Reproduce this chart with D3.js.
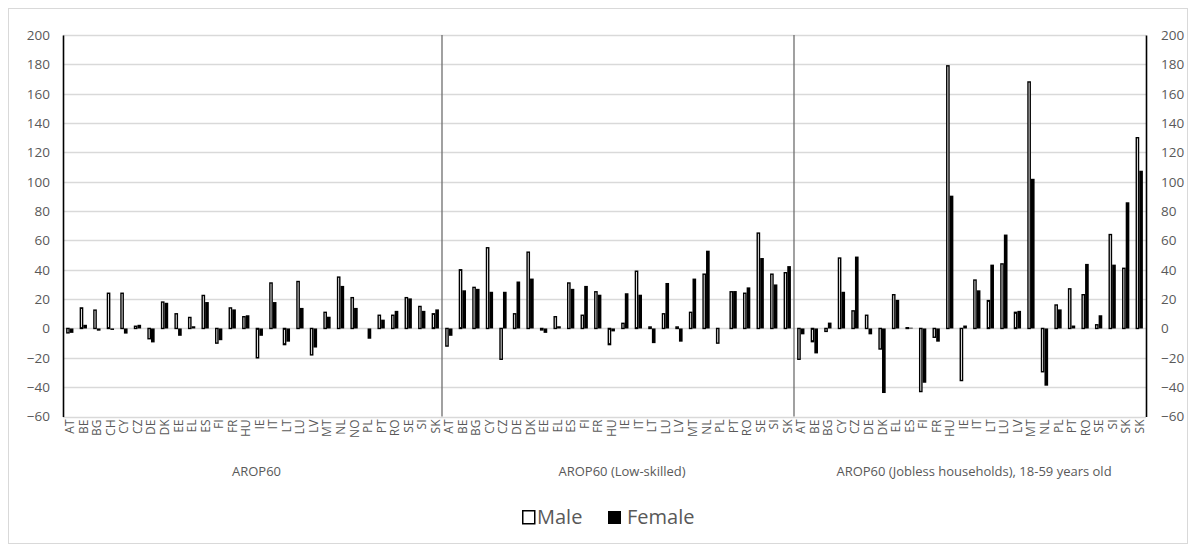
<!DOCTYPE html>
<html>
<head>
<meta charset="utf-8">
<script src="https://cdn.jsdelivr.net/npm/d3@7/dist/d3.min.js"></script>
<style>
  body { margin: 0; background: #fff; }
  text { font-family: "Open Sans", sans-serif; fill: #595959; }
</style>
</head>
<body>
<script>
// chart size
var width = 1196;
var height = 552;

// data
var panelTitles = ["AROP60", "AROP60 (Low-skilled)", "AROP60 (Jobless households), 18-59 years old"];

var countries1 = ["AT","BE","BG","CH","CY","CZ","DE","DK","EE","EL","ES","FI","FR","HU","IE","IT","LT","LU","LV","MT","NL","NO","PL","PT","RO","SE","SI","SK"];
var male1   = [-3, 14, 12.5, 24, 24, 1.5, -7, 18, 10, 7.5, 22.5, -10, 14, 8, -20, 31, -11, 32, -18, 11, 35, 21, 0, 9, 9, 21, 15, 10];
var female1 = [-3, 2.5, -1.5, -1, -3.5, 2.5, -9.5, 17.5, -5, 1.5, 18, -8, 13, 9, -5, 18, -9, 14, -13, 8, 29, 14, -7, 6, 12, 20.5, 12, 13];

var countries2 = ["AT","BE","BG","CY","CZ","DE","DK","EE","EL","ES","FI","FR","HU","IE","IT","LT","LU","LV","MT","NL","PL","PT","RO","SE","SI","SK"];
var male2   = [-12, 40, 28, 55, -21, 10, 52, -1, 8, 31, 9, 25, -11, 3.5, 39, 1, 10, 1, 11, 37, -10, 25, 24, 65, 37, 38];
var female2 = [-5, 26, 27, 25, 25, 32, 34, -3, 1.5, 27, 29, 23, -2, 24, 23, -10, 31, -9, 34, 53, 0, 25.5, 28, 48, 30, 42.5];

var countries3 = ["AT","BE","BG","CY","CZ","DE","DK","EL","ES","FI","FR","HU","IE","IT","LT","LU","LV","MT","NL","PL","PT","RO","SE","SI","SK","SK"];
var male3   = [-21, -9, -2, 48, 12, 9, -14, 23, 0.5, -43, -6, 179, -35.5, 33, 19, 44, 11, 168, -29.5, 16, 27, 23, 2.5, 64, 41, 130];
var female3 = [-4, -17, 4, 25, 49, -4, -44, 19.5, 0.5, -37, -9, 90.5, 2, 26, 43.5, 64, 12, 102, -39, 13, 2, 44, 9, 43.5, 86, 107.5];

var yTicks = [-60, -40, -20, 0, 20, 40, 60, 80, 100, 120, 140, 160, 180, 200];
var seriesNames = ["Male", "Female"];

var panels = [
  { title: panelTitles[0], countries: countries1, male: male1, female: female1 },
  { title: panelTitles[1], countries: countries2, male: male2, female: female2 },
  { title: panelTitles[2], countries: countries3, male: male3, female: female3 }
];

var rows = [];
panels.forEach(function(p, i) {
  p.keys = [];
  p.countries.forEach(function(c, j) {
    var key = i + "-" + j;
    p.keys.push(key);
    rows.push({ key: key, country: c, male: p.male[j], female: p.female[j] });
  });
});

// plot box ("top" is taken by window.top, so own names here)
var plotLeft = 63, plotRight = 1146, plotTop = 35, plotBottom = 416.5;

var svg = d3.select("body")
  .append("svg")
    .attr("width", width)
    .attr("height", height);

// outer frame
svg.append("rect")
  .attr("x", 8.5).attr("y", 8.5)
  .attr("width", 1179).attr("height", 535)
  .attr("fill", "#fff")
  .attr("stroke", "#d9d9d9");

var x = d3.scaleBand()
  .domain(rows.map(function(d) { return d.key; }))
  .range([plotLeft, plotRight]);

var xSub = d3.scaleBand()
  .domain(["male", "female"])
  .range([0, x.bandwidth()])
  .paddingOuter(0.85);

var y = d3.scaleLinear()
  .domain([-60, 200])
  .range([plotBottom, plotTop]);

// gridlines
svg.append("g")
  .selectAll("line")
  .data(yTicks)
  .enter()
  .append("line")
    .attr("x1", plotLeft).attr("x2", plotRight)
    .attr("y1", function(d) { return Math.round(y(d)) + 0.5; })
    .attr("y2", function(d) { return Math.round(y(d)) + 0.5; })
    .attr("stroke", "#d9d9d9")
    .attr("stroke-width", 1.3);

// panel dividers
panels.slice(1).forEach(function(p) {
  var xx = Math.round(x(p.keys[0]));
  svg.append("line")
    .attr("x1", xx).attr("x2", xx)
    .attr("y1", plotTop).attr("y2", plotBottom)
    .attr("stroke", "#6e6e6e")
    .attr("stroke-width", 1.3);
});

// y axes left and right
var yLeft = svg.append("g")
  .attr("transform", "translate(" + plotLeft + ",0)")
  .call(d3.axisLeft(y).tickValues(yTicks).tickSize(0).tickPadding(13));
var yRight = svg.append("g")
  .attr("transform", "translate(" + plotRight + ",0)")
  .call(d3.axisRight(y).tickValues(yTicks).tickSize(0).tickPadding(15));

[yLeft, yRight].forEach(function(g) {
  g.select(".domain").attr("stroke", "#000").attr("stroke-width", 1.6);
  g.selectAll("text").style("font-size", "13.5px").attr("fill", "#595959")
    .style("font-family", "'Open Sans', sans-serif");
});

// bars
var groups = svg.append("g")
  .selectAll("g")
  .data(rows)
  .enter()
  .append("g")
    .attr("transform", function(d) { return "translate(" + x(d.key) + ",0)"; });

groups.append("rect")
  .attr("x", xSub("male") + 0.7)
  .attr("width", xSub.bandwidth() - 1.4)
  .attr("y", function(d) { return y(Math.max(0, d.male)); })
  .attr("height", function(d) { return Math.abs(y(d.male) - y(0)); })
  .attr("fill", "#fff")
  .attr("stroke", "#000")
  .attr("stroke-width", 1.4);

groups.append("rect")
  .attr("x", xSub("female"))
  .attr("width", xSub.bandwidth())
  .attr("y", function(d) { return y(Math.max(0, d.female)); })
  .attr("height", function(d) { return Math.abs(y(d.female) - y(0)); })
  .attr("fill", "#000");

// country labels
svg.append("g")
  .selectAll("text")
  .data(rows)
  .enter()
  .append("text")
    .attr("transform", function(d) {
      return "translate(" + (x(d.key) + x.bandwidth() / 2 + 4.5) + "," + (plotBottom + 3) + ") rotate(-90)";
    })
    .attr("text-anchor", "end")
    .style("font-size", "12px")
    .text(function(d) { return d.country; });

// panel titles
svg.append("g")
  .selectAll("text")
  .data(panels)
  .enter()
  .append("text")
    .attr("x", function(p) {
      var a = x(p.keys[0]);
      var b = x(p.keys[p.keys.length - 1]) + x.bandwidth();
      return (a + b) / 2 + 4;
    })
    .attr("y", 476)
    .attr("text-anchor", "middle")
    .style("font-size", "13px")
    .text(function(p) { return p.title; });

// legend
var legend = svg.append("g").attr("transform", "translate(522,510)");
legend.append("rect")
  .attr("x", 0.75).attr("y", 0.75).attr("width", 12).attr("height", 13)
  .attr("fill", "#fff").attr("stroke", "#000").attr("stroke-width", 1.5);
legend.append("text")
  .attr("x", 15).attr("y", 14)
  .style("font-size", "20px")
  .text(seriesNames[0]);
legend.append("rect")
  .attr("x", 86).attr("y", 1).attr("width", 13).attr("height", 13)
  .attr("fill", "#000");
legend.append("text")
  .attr("x", 105).attr("y", 14)
  .style("font-size", "20px")
  .text(seriesNames[1]);
</script>
</body>
</html>
